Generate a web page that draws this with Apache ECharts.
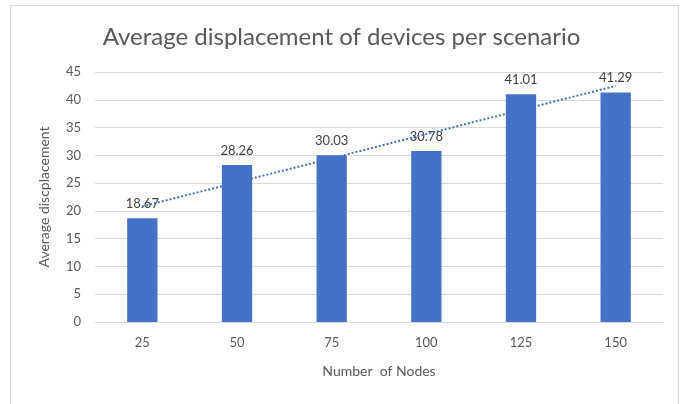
<!DOCTYPE html>
<html>
<head>
<meta charset="utf-8">
<script src="https://cdn.jsdelivr.net/npm/echarts@6/dist/echarts.min.js"></script>
<style>
  html, body { margin: 0; padding: 0; background: #fff; }
  #main { width: 683px; height: 404px; }
  #frame { position: absolute; left: 10px; top: 5px; width: 669px; height: 404px; border: 1px solid #d9d9d9; box-sizing: border-box; pointer-events: none; }
</style>
</head>
<body>
<div id="main"></div>
<div id="frame"></div>
<script>
// data
var nodes = ['25', '50', '75', '100', '125', '150'];
var displacement = [18.67, 28.26, 30.03, 30.78, 41.01, 41.29];
// linear trendline, ends
var trendLine = [20.8, '-', '-', '-', '-', 42.5];

var myChart = echarts.init(document.getElementById('main'));

var option = {
    animation: false,
    title: {
        text: 'Average displacement of devices per scenario',
        left: 'center',
        top: 20,
        textStyle: { fontFamily: 'Lato', fontWeight: 'normal', fontSize: 24, color: '#595959' }
    },
    grid: { left: 95, right: 20, top: 72, bottom: 82 },
    xAxis: {
        type: 'category',
        data: nodes,
        name: 'Number  of Nodes',
        nameLocation: 'middle',
        nameGap: 42,
        nameTextStyle: { fontFamily: 'Lato', fontSize: 14, color: '#595959' },
        axisLine: { lineStyle: { color: '#d9d9d9' } },
        axisTick: { show: false },
        axisLabel: { fontFamily: 'Lato', fontSize: 13, color: '#595959', margin: 14 }
    },
    yAxis: {
        type: 'value',
        min: 0,
        max: 45,
        interval: 5,
        name: 'Average discplacement',
        nameLocation: 'middle',
        nameGap: 44,
        nameTextStyle: { fontFamily: 'Lato', fontSize: 14, color: '#595959' },
        axisLine: { show: false },
        axisTick: { show: false },
        splitLine: { lineStyle: { color: '#d9d9d9' } },
        axisLabel: { fontFamily: 'Lato', fontSize: 13, color: '#595959', margin: 14 }
    },
    series: [
        {
            type: 'bar',
            data: displacement,
            barWidth: '32%',
            itemStyle: { color: '#4472c4' },
            label: {
                show: true,
                position: 'top',
                distance: 8,
                fontFamily: 'Lato',
                fontSize: 13,
                color: '#404040'
            }
        },
        {
            type: 'line',
            data: trendLine,
            connectNulls: true,
            symbol: 'none',
            lineStyle: { color: '#4472c4', width: 2, type: [2, 2] },
            z: 3
        }
    ]
};

myChart.setOption(option);
</script>
</body>
</html>
